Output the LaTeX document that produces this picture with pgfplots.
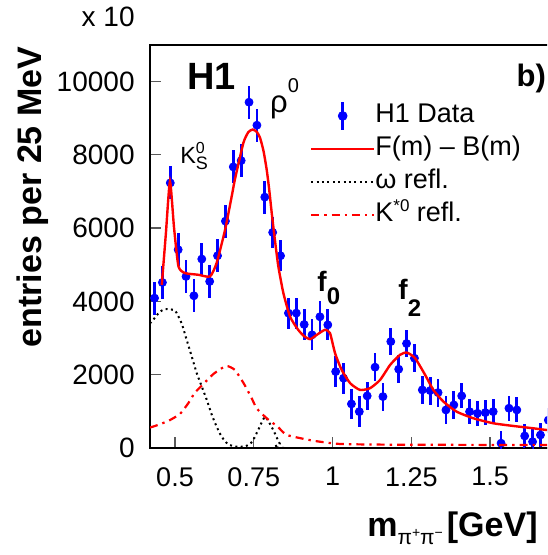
\documentclass[border=0pt]{standalone}
\usepackage{fontspec}
\setmainfont{Liberation Sans}
\usepackage{pgfplots}
\pgfplotsset{compat=1.18}
\usepackage{pgfplotstable}

\definecolor{rootblue}{RGB}{0,0,255}
\definecolor{rootred}{RGB}{255,0,0}

\pgfplotstableread{
x y e
0.435 4090 450
0.460 4516 450
0.485 7232 450
0.510 5410 450
0.535 4680 450
0.560 4153 450
0.585 5155 450
0.610 4544 450
0.635 5245 450
0.660 6190 450
0.685 7669 450
0.710 7840 450
0.735 9434 450
0.760 8806 450
0.785 6845 450
0.810 5882 420
0.835 5245 420
0.860 3680 420
0.885 3680 420
0.910 3370 420
0.935 3087 420
0.960 3580 420
0.985 3360 420
1.010 2085 420
1.035 1904 420
1.060 1202 420
1.085 992 420
1.110 1421 380
1.135 2205 380
1.160 1402 380
1.185 2904 380
1.210 2150 380
1.235 2850 380
1.260 2450 380
1.285 1585 380
1.310 1566 380
1.335 1511 380
1.360 1038 380
1.385 1175 380
1.410 1421 340
1.435 992 340
1.460 947 340
1.485 965 340
1.510 992 340
1.535 130 340
1.560 1085 340
1.585 1038 340
1.610 328 340
1.635 172 340
1.660 355 340
1.685 760 340
}\datatab

\pgfplotstableread{
x y
0.458 4450
0.471 5850
0.484 7275
0.497 6000
0.511 4953
0.532 4772
0.574 4726
0.611 4680
0.632 5046
0.659 5956
0.682 6958
0.690 7322
0.717 8324
0.733 8620
0.747 8688
0.760 8620
0.770 8461
0.781 8100
0.791 7595
0.799 7050
0.807 6412
0.817 5683
0.828 4953
0.844 4226
0.865 3587
0.891 3224
0.910 3050
0.929 2970
0.950 3087
0.976 3224
0.992 3133
1.008 2587
1.029 2131
1.056 1767
1.087 1585
1.119 1631
1.151 1858
1.183 2268
1.214 2541
1.236 2604
1.262 2451
1.294 1994
1.320 1585
1.352 1265
1.394 992
1.447 811
1.510 675
1.574 601
1.637 538
1.679 492
1.750 440
}\fittab

\pgfplotstableread{
x y
0.4206 3400
0.431 3500
0.450 3700
0.468 3790
0.500 3750
0.521 3400
0.537 2950
0.553 2500
0.569 2040
0.585 1675
0.601 1310
0.617 900
0.632 585
0.648 310
0.667 110
0.690 40
0.722 40
0.745 170
0.764 490
0.786 850
0.812 490
0.833 110
0.855 0
1.750 0
}\omegatab

\pgfplotstableread{
x y
0.4206 560
0.4365 600
0.479 740
0.516 930
0.542 1220
0.563 1510
0.587 1720
0.622 2020
0.662 2240
0.690 2130
0.719 1750
0.741 1400
0.759 1085
0.791 810
0.826 580
0.855 355
0.938 200
1.024 110
1.200 90
1.750 80
}\kstartab

\begin{document}
\begin{tikzpicture}
\useasboundingbox (-75pt,-53.5pt) rectangle (198.5pt,224pt);
\clip (-75pt,-53.5pt) rectangle (198.5pt,224pt);
\begin{axis}[
  at={(0,0)}, anchor=south west,
  scale only axis, width=209.4pt, height=201.6pt,
  xmin=0.4206, xmax=1.75, ymin=0, ymax=11000,
  scaled x ticks=false, scaled y ticks=false,
  xtick={0.5,0.75,1,1.25,1.5}, xticklabels={0.5,0.75,1,1.25,1.5},
  ytick={0,2000,4000,6000,8000,10000}, yticklabels={0,2000,4000,6000,8000,10000},
  tick align=inside, xtick pos=bottom, ytick pos=left,
  major tick length=5.5pt,
  tick style={black!65, line width=0.6pt},
  axis line style={line width=1pt},
  xticklabel style={font=\fontsize{13.5}{15}\selectfont, inner sep=0pt, anchor=north, yshift=-9.5pt},
  yticklabel style={font=\fontsize{14}{16}\selectfont, inner sep=0pt, anchor=east, xshift=-7.5pt},
  ylabel={\bfseries entries per 25 MeV},
  ylabel style={at={(axis description cs:-0.279,0.6225)}, anchor=center, inner sep=0pt, font=\fontsize{17}{20}\selectfont},
  xlabel={\textbf{m}\raisebox{-4pt}{\fontsize{10.5}{10.5}\selectfont π\raisebox{3.5pt}{\fontsize{7}{7}\selectfont +}π\raisebox{3.5pt}{\fontsize{7}{7}\selectfont −}}\hspace{2pt}\textbf{[GeV]}},
  xlabel style={at={(axis description cs:0.518,-0.2207)}, anchor=base west, inner sep=0pt, font=\fontsize{17}{20}\selectfont},
  clip mode=individual,
  legend style={at={(axis description cs:0.382,0.857)}, anchor=north west, draw=none, fill=none, inner sep=0pt, outer sep=0pt, row sep=3pt, font=\fontsize{13.5}{15}\selectfont, nodes={inner sep=0pt, text height=10pt, text depth=3.5pt}, /tikz/every even column/.append style={column sep=9.5pt}},
  legend cell align=left,
]
\addplot[rootblue, only marks, mark=*, mark size=2pt,
  legend image code/.code={\draw[overlay, rootblue, line width=1.4pt] (15.75pt,-7pt) -- (15.75pt,7pt); \fill[overlay, rootblue] (15.75pt,0pt) circle (2.2pt); \path[draw=none, fill=none] (0pt,0pt) rectangle (31.5pt,0.1pt);},
  error bars/.cd, y dir=both, y explicit, error mark=none,
  error bar style={line width=1.4pt, rootblue}]
  table[x=x, y=y, y error=e] {\datatab};
\addlegendentry{H1 Data}
\addplot[rootred, line width=1.2pt, smooth, tension=0.35, mark=none,
  legend image code/.code={\draw[rootred, line width=1.2pt] (0pt,0pt) -- (31.5pt,0pt);}]
  table[x=x, y=y] {\fittab};
\addlegendentry{F(m) – B(m)}
\addplot[black, line width=1pt, dash pattern=on 1pt off 1.7pt, smooth, tension=0.3, mark=none,
  legend image code/.code={\draw[black, line width=1pt, dash pattern=on 1pt off 1.7pt] (0pt,0pt) -- (31.5pt,0pt);}]
  table[x=x, y=y] {\omegatab};
\addlegendentry{ω refl.}
\addplot[rootred, line width=1.1pt, dash pattern=on 4pt off 2.5pt on 1.2pt off 2.5pt, smooth, tension=0.3, mark=none,
  legend image code/.code={\draw[rootred, line width=1.1pt, dash pattern=on 4pt off 2.5pt on 1.2pt off 2.5pt] (0pt,0pt) -- (31.5pt,0pt);}]
  table[x=x, y=y] {\kstartab};
\addlegendentry{K\raisebox{5pt}{\fontsize{8.5}{8.5}\selectfont *0} refl.}

\node[anchor=base west, inner sep=0pt, font=\fontsize{19}{22}\selectfont\bfseries] at (axis cs:0.538,9768) {H1};
\node[anchor=base west, inner sep=0pt, font=\fontsize{15.5}{18}\selectfont\bfseries] at (axis cs:1.583,9850) {b)};
\node[anchor=base west, inner sep=0pt, font=\fontsize{15.5}{18}\selectfont] at (axis cs:0.801,9140) {ρ\raisebox{10pt}{\fontsize{10}{10}\selectfont 0}};
\node[anchor=base west, inner sep=0pt, font=\fontsize{11.7}{14}\selectfont] at (axis cs:0.5158,7768) {K\makebox[0pt][l]{\raisebox{5pt}{\fontsize{8}{8}\selectfont 0}}\raisebox{-3.3pt}{\fontsize{9}{9}\selectfont S}};
\node[anchor=base west, inner sep=0pt, font=\fontsize{14}{16}\selectfont\bfseries] at (axis cs:0.9508,4256) {f\raisebox{-6.5pt}{\fontsize{12}{12}\selectfont\bfseries 0}};
\node[anchor=base west, inner sep=0pt, font=\fontsize{14}{16}\selectfont\bfseries] at (axis cs:1.208,4038) {f\raisebox{-8.5pt}{\fontsize{12}{12}\selectfont\bfseries 2}};
\node[anchor=base east, inner sep=0pt, font=\fontsize{14}{16}\selectfont] at (axis cs:0.373,11487) {x 10};
\end{axis}
\end{tikzpicture}
\end{document}
